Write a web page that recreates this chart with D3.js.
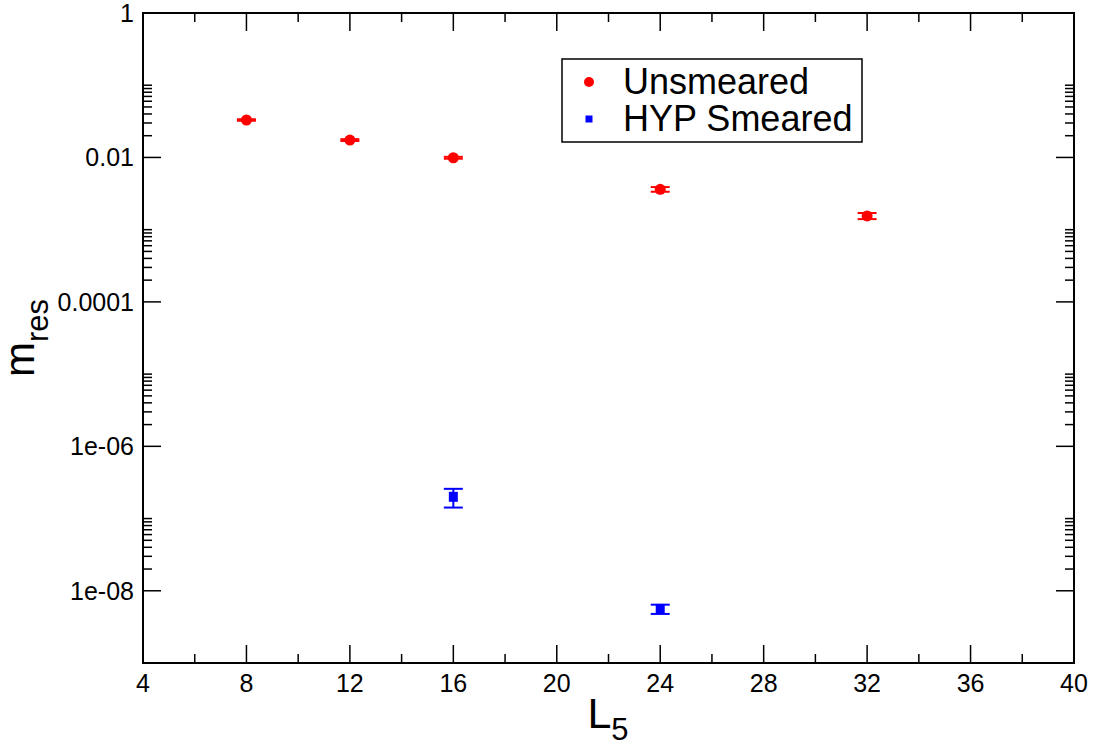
<!DOCTYPE html>
<html>
<head>
<meta charset="utf-8">
<script src="https://cdn.jsdelivr.net/npm/d3@7"></script>
<style>
  body { margin: 0; background: #fff; }
  text { font-family: "Liberation Sans", Arial, sans-serif; }
</style>
</head>
<body>
<div id="container"></div>
<script>
// Data
let unsmearedL5 = [8, 12, 16, 24, 32];
let unsmearedMres = [0.033, 0.0174, 0.0099, 0.00362, 0.00155];
let unsmearedErr = [0.0008, 0.0005, 0.0003, 0.00027, 0.00015];

let hypL5 = [16, 24];
let hypMres = [2.0e-7, 5.6e-9];
let hypErr = [0.58e-7, 0.82e-9];

let xTicks = [4, 8, 12, 16, 20, 24, 28, 32, 36, 40];
let yTicks = [1, 1e-2, 1e-4, 1e-6, 1e-8];
let yTickLabels = ["1", "0.01", "0.0001", "1e-06", "1e-08"];
let legendLabels = ["Unsmeared", "HYP Smeared"];

// Layout
let W = 1103, H = 749;
let pLeft = 143, pRight = 1074, pTop = 13, pBottom = 663;

let svg = d3.select("#container")
  .append("svg")
  .attr("width", W)
  .attr("height", H);

let x = d3.scaleLinear().domain([4, 40]).range([pLeft, pRight]);
let y = d3.scaleLog().domain([1e-9, 1]).range([pBottom, pTop]);

// Minor ticks
let xMinor = d3.range(6, 40, 4);
let yMinor = [];
yTicks.forEach((t) => {
  for (let k = 2; k <= 10; k++) {
    let v = t * k;
    if (v < 1) yMinor.push(v);
  }
});

let majorLen = 18, minorLen = 9;
let ticks = svg.append("g").attr("stroke", "#000").attr("stroke-width", 1.5);

// bottom and top x ticks
[[pBottom, -1], [pTop, 1]].forEach(([yy, dir]) => {
  ticks.selectAll(null).data(xTicks).enter().append("line")
    .attr("x1", (d) => x(d)).attr("x2", (d) => x(d))
    .attr("y1", yy).attr("y2", yy + dir * majorLen);
  ticks.selectAll(null).data(xMinor).enter().append("line")
    .attr("x1", (d) => x(d)).attr("x2", (d) => x(d))
    .attr("y1", yy).attr("y2", yy + dir * minorLen);
});

// left and right y ticks
[[pLeft, 1], [pRight, -1]].forEach(([xx, dir]) => {
  ticks.selectAll(null).data(yTicks).enter().append("line")
    .attr("y1", (d) => y(d)).attr("y2", (d) => y(d))
    .attr("x1", xx).attr("x2", xx + dir * majorLen);
  ticks.selectAll(null).data(yMinor).enter().append("line")
    .attr("y1", (d) => y(d)).attr("y2", (d) => y(d))
    .attr("x1", xx).attr("x2", xx + dir * minorLen);
});

// Frame
svg.append("rect")
  .attr("x", pLeft).attr("y", pTop)
  .attr("width", pRight - pLeft).attr("height", pBottom - pTop)
  .attr("fill", "none").attr("stroke", "#000").attr("stroke-width", 2);

// Tick labels
svg.selectAll(".xl").data(xTicks).enter().append("text")
  .attr("x", (d) => x(d)).attr("y", pBottom + 29)
  .attr("text-anchor", "middle")
  .attr("font-size", 25)
  .text((d) => d);

svg.selectAll(".yl").data(yTicks).enter().append("text")
  .attr("x", pLeft - 9).attr("y", (d) => y(d) + 9)
  .attr("text-anchor", "end")
  .attr("font-size", 25)
  .text((d, i) => yTickLabels[i]);

// Axis titles
let xt = svg.append("text")
  .attr("x", 608).attr("y", 728)
  .attr("text-anchor", "middle")
  .attr("font-size", 43);
xt.append("tspan").text("L");
xt.append("tspan").attr("font-size", 31).attr("dy", 12).text("5");

let yt = svg.append("text")
  .attr("transform", "translate(34,338) rotate(-90)")
  .attr("text-anchor", "middle")
  .attr("font-size", 42);
yt.append("tspan").text("m");
yt.append("tspan").attr("font-size", 31).attr("dy", 14).text("res");

// Error bars
function errorBars(xs, ys, es, color) {
  let g = svg.append("g").attr("stroke", color).attr("stroke-width", 2);
  xs.forEach((xv, i) => {
    let cx = x(xv), y1 = y(ys[i] + es[i]), y2 = y(ys[i] - es[i]);
    g.append("line").attr("x1", cx).attr("x2", cx).attr("y1", y1).attr("y2", y2);
    g.append("line").attr("x1", cx - 9.5).attr("x2", cx + 9.5).attr("y1", y1).attr("y2", y1);
    g.append("line").attr("x1", cx - 9.5).attr("x2", cx + 9.5).attr("y1", y2).attr("y2", y2);
  });
}
errorBars(unsmearedL5, unsmearedMres, unsmearedErr, "#ff0000");
errorBars(hypL5, hypMres, hypErr, "#0000ff");

// Markers
svg.selectAll(".red").data(unsmearedL5).enter().append("circle")
  .attr("cx", (d) => x(d))
  .attr("cy", (d, i) => y(unsmearedMres[i]))
  .attr("r", 5.5)
  .attr("fill", "#ff0000");

svg.selectAll(".blue").data(hypL5).enter().append("rect")
  .attr("x", (d) => x(d) - 4.5)
  .attr("y", (d, i) => y(hypMres[i]) - 5)
  .attr("width", 9).attr("height", 10)
  .attr("fill", "#0000ff");

// Legend
let lg = svg.append("g");
lg.append("rect")
  .attr("x", 562).attr("y", 59).attr("width", 300).attr("height", 83)
  .attr("fill", "#fff").attr("stroke", "#000").attr("stroke-width", 1.5);
lg.append("circle").attr("cx", 589).attr("cy", 82).attr("r", 5).attr("fill", "#ff0000");
lg.append("rect").attr("x", 585.5).attr("y", 115.5).attr("width", 7).attr("height", 7).attr("fill", "#0000ff");
lg.selectAll(".lt").data(legendLabels).enter().append("text")
  .attr("x", 623).attr("y", (d, i) => 94 + i * 37)
  .attr("font-size", 36)
  .text((d) => d);
</script>
</body>
</html>
